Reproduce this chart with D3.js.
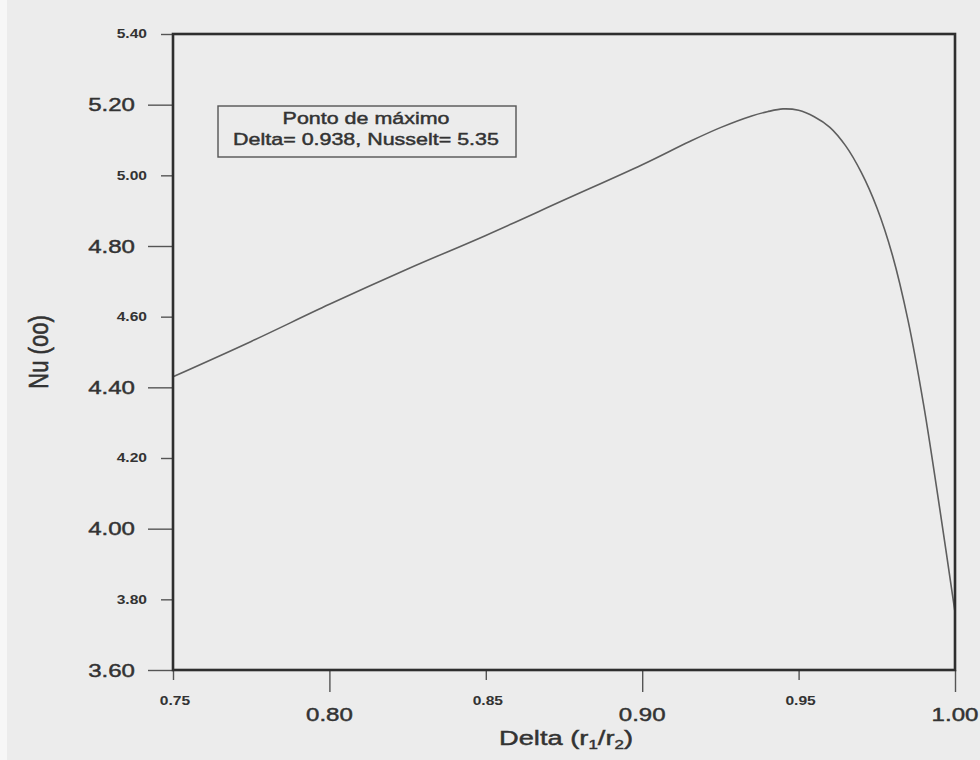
<!DOCTYPE html>
<html>
<head>
<meta charset="utf-8">
<script src="https://cdn.jsdelivr.net/npm/d3@7"></script>
<style>
  html, body { margin: 0; padding: 0; background: #ececec; }
  svg { display: block; }
  text { font-family: "Liberation Sans", Arial, sans-serif; fill: #333; }
  .heavy { stroke: #333; stroke-width: 0.45px; }
</style>
</head>
<body>
<svg id="chart" width="980" height="760"></svg>
<script>
// Nusselt number versus radius ratio of the annulus
const delta = [0.750, 0.775, 0.800, 0.825, 0.850, 0.875, 0.900, 0.915, 0.925, 0.935,
               0.940, 0.945, 0.950, 0.955, 0.960, 0.965, 0.970, 0.975, 0.980, 0.985,
               0.990, 0.995, 1.000];
const nusselt = [4.430, 4.530, 4.635, 4.735, 4.830, 4.930, 5.030, 5.095, 5.135, 5.168,
                 5.180, 5.188, 5.184, 5.166, 5.136, 5.084, 5.009, 4.909, 4.774, 4.589,
                 4.349, 4.064, 3.764];

const xTicks = [0.75, 0.80, 0.85, 0.90, 0.95, 1.00];
const xTickLabels = ["0.75", "0.80", "0.85", "0.90", "0.95", "1.00"];
const yTicks = [3.6, 3.8, 4.0, 4.2, 4.4, 4.6, 4.8, 5.0, 5.2, 5.4];
const yTickLabels = ["3.60", "3.80", "4.00", "4.20", "4.40", "4.60", "4.80", "5.00", "5.20", "5.40"];

const noteLines = ["Ponto de máximo", "Delta= 0.938, Nusselt= 5.35"];
const xTitle = "Delta (r";
const yTitle = "Nu (oo)";

const svg = d3.select("#chart");
const plotLeft = 173, plotRight = 955, plotTop = 34, plotBottom = 670;
const SX = 1.3;   // wide lettering

const x = d3.scaleLinear().domain([0.75, 1.0]).range([plotLeft, plotRight]);
const y = d3.scaleLinear().domain([3.6, 5.4]).range([plotBottom, plotTop]);

// pale strip along the left edge of the sheet
svg.append("rect").attr("x", 0).attr("y", 0).attr("width", 7).attr("height", 760).attr("fill", "#f7f7f7");

// ticks: labelled ones alternate between long and short marks
const isBigX = (d, i) => i % 2 === 1;
const isBigY = (d, i) => i % 2 === 0;

const xAxis = svg.append("g").attr("transform", `translate(0,${plotBottom})`)
  .call(d3.axisBottom(x).tickValues(xTicks).tickFormat("").tickSizeOuter(0));
xAxis.select(".domain").remove();
xAxis.selectAll(".tick line")
  .attr("y2", (d, i) => isBigX(d, i) ? 22 : 10)
  .attr("stroke", "#555").attr("stroke-width", 1.4);

const yAxis = svg.append("g").attr("transform", `translate(${plotLeft},0)`)
  .call(d3.axisLeft(y).tickValues(yTicks).tickFormat("").tickSizeOuter(0));
yAxis.select(".domain").remove();
yAxis.selectAll(".tick line")
  .attr("x2", (d, i) => isBigY(d, i) ? -25 : -12)
  .attr("stroke", "#555").attr("stroke-width", 1.4);

// tick labels
svg.append("g").selectAll("text").data(xTicks).join("text")
  .attr("class", (d, i) => isBigX(d, i) ? "heavy" : null)
  .attr("text-anchor", "middle")
  .attr("font-size", (d, i) => isBigX(d, i) ? 18.5 : 12)
  .attr("font-weight", (d, i) => isBigX(d, i) ? "normal" : "bold")
  .attr("fill", (d, i) => isBigX(d, i) ? "#333" : "#4a4a4a")
  .attr("transform", (d, i) => isBigX(d, i)
      ? `translate(${x(d)},721) scale(${SX},1)`
      : `translate(${x(d) + 2},705) scale(${SX},1)`)
  .text((d, i) => xTickLabels[i]);

svg.append("g").selectAll("text").data(yTicks).join("text")
  .attr("class", (d, i) => isBigY(d, i) ? "heavy" : null)
  .attr("text-anchor", "end")
  .attr("font-size", (d, i) => isBigY(d, i) ? 18.5 : 12)
  .attr("font-weight", (d, i) => isBigY(d, i) ? "normal" : "bold")
  .attr("fill", (d, i) => isBigY(d, i) ? "#333" : "#4a4a4a")
  .attr("transform", (d, i) => isBigY(d, i)
      ? `translate(135,${y(d) + 6.6}) scale(${SX},1)`
      : `translate(147,${y(d) + 4.3}) scale(${SX},1)`)
  .text((d, i) => yTickLabels[i]);

// curve
const line = d3.line()
  .x((d, i) => x(delta[i]))
  .y(d => y(d))
  .curve(d3.curveCatmullRom.alpha(0.5));
svg.append("path")
  .datum(nusselt)
  .attr("d", line)
  .attr("fill", "none")
  .attr("stroke", "#5e5e5e")
  .attr("stroke-width", 1.6);

// plot frame
svg.append("rect")
  .attr("x", plotLeft).attr("y", plotTop)
  .attr("width", plotRight - plotLeft).attr("height", plotBottom - plotTop)
  .attr("fill", "none").attr("stroke", "#2e2e2e").attr("stroke-width", 2.6);

// annotation box
svg.append("rect")
  .attr("x", 218).attr("y", 106).attr("width", 298).attr("height", 51)
  .attr("fill", "none").attr("stroke", "#555").attr("stroke-width", 1.4);
svg.append("g").selectAll("text").data(noteLines).join("text")
  .attr("class", "heavy")
  .attr("text-anchor", "middle")
  .attr("font-size", 16.5)
  .attr("transform", (d, i) => `translate(366,${124 + i * 21}) scale(${SX},1)`)
  .text(d => d);

// axis titles
const xt = svg.append("text")
  .attr("class", "heavy")
  .attr("text-anchor", "middle")
  .attr("font-size", 21)
  .attr("transform", `translate(566,745) scale(${SX},1)`);
xt.append("tspan").text(xTitle);
xt.append("tspan").attr("font-size", 13).attr("dy", 4).text("1");
xt.append("tspan").attr("dy", -4).text("/r");
xt.append("tspan").attr("font-size", 13).attr("dy", 4).text("2");
xt.append("tspan").attr("dy", -4).text(")");

svg.append("text")
  .attr("class", "heavy")
  .attr("text-anchor", "middle")
  .attr("font-size", 21)
  .attr("transform", `translate(48,352) rotate(-90) scale(1.05,${SX})`)
  .text(yTitle);
</script>
</body>
</html>
